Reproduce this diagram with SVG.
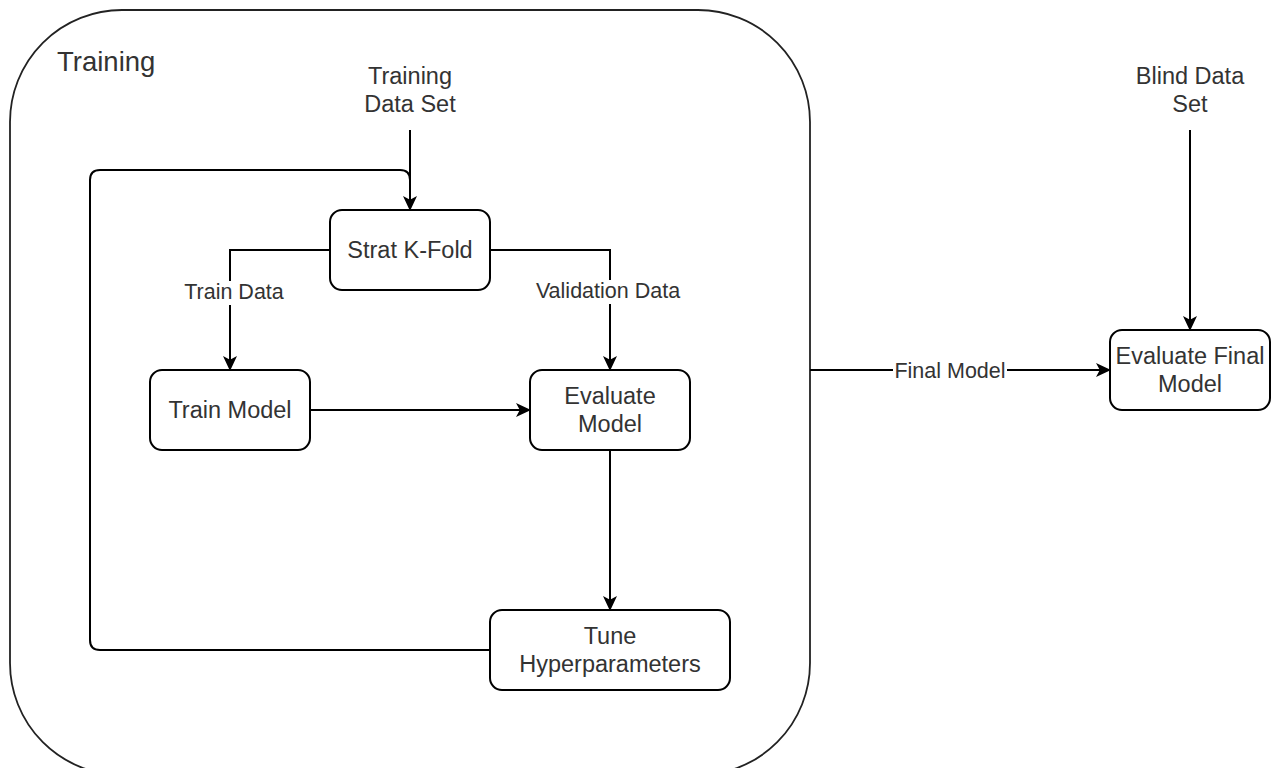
<svg xmlns="http://www.w3.org/2000/svg" width="1271" height="768" viewBox="0 0 1271 768">
  <defs>
    <marker id="arrow" markerUnits="userSpaceOnUse" markerWidth="15" markerHeight="15" viewBox="0 0 15 15" refX="14" refY="7.5" orient="auto">
      <path d="M15,7.5 L0,0.5 L3.8,7.5 L0,14.5 Z" fill="#000"/>
    </marker>
    <style>
      .box { fill: #fff; stroke: #000; stroke-width: 2; }
      .edge { fill: none; stroke: #000; stroke-width: 2; }
      .lbl { font-family: "Liberation Sans", Arial, sans-serif; fill: #333; text-anchor: middle; }
      .node { font-size: 23.5px; }
      .elbl { font-size: 21.5px; }
      .bg { fill: #fff; }
    </style>
  </defs>
  <rect width="1271" height="768" fill="#fff"/>

  <!-- Training container -->
  <g id="training-container">
    <rect x="10" y="10" width="800" height="765" rx="112" ry="112" fill="none" stroke="#222" stroke-width="1.8"/>
    <text x="57" y="71" font-family="'Liberation Sans', Arial, sans-serif" font-size="27.5" fill="#333">Training</text>
  </g>

  <!-- Connectors -->
  <g id="connectors">
    <!-- feedback loop from Tune Hyperparameters back into Strat K-Fold -->
    <path class="edge" d="M490,650 H100 Q90,650 90,640 V180 Q90,170 100,170 H400 Q410,170 410,180"/>
    <path class="edge" d="M410,130 V210" marker-end="url(#arrow)"/>
    <path class="edge" d="M330,250 H230 V370" marker-end="url(#arrow)"/>
    <path class="edge" d="M490,250 H610 V370" marker-end="url(#arrow)"/>
    <path class="edge" d="M310,410 H530" marker-end="url(#arrow)"/>
    <path class="edge" d="M610,450 V610" marker-end="url(#arrow)"/>
    <path class="edge" d="M810,370 H1110" marker-end="url(#arrow)"/>
    <path class="edge" d="M1190,130 V330" marker-end="url(#arrow)"/>

    <!-- edge labels -->
    <rect class="bg" x="182" y="281" width="104" height="24"/>
    <text class="lbl elbl" x="234" y="299">Train Data</text>
    <rect class="bg" x="533" y="280" width="150" height="24"/>
    <text class="lbl elbl" x="608" y="298">Validation Data</text>
    <rect class="bg" x="893" y="360" width="114" height="24"/>
    <text class="lbl elbl" x="950" y="378">Final Model</text>
  </g>

  <!-- Free-standing data set labels -->
  <g id="training-data-set">
    <text class="lbl node" x="410" y="84">Training</text>
    <text class="lbl node" x="410" y="112">Data Set</text>
  </g>
  <g id="blind-data-set">
    <text class="lbl node" x="1190" y="84">Blind Data</text>
    <text class="lbl node" x="1190" y="112">Set</text>
  </g>

  <!-- Process nodes -->
  <g id="strat-k-fold">
    <rect class="box" x="330" y="210" width="160" height="80" rx="12" ry="12"/>
    <text class="lbl node" x="410" y="258">Strat K-Fold</text>
  </g>
  <g id="train-model">
    <rect class="box" x="150" y="370" width="160" height="80" rx="12" ry="12"/>
    <text class="lbl node" x="230" y="418">Train Model</text>
  </g>
  <g id="evaluate-model">
    <rect class="box" x="530" y="370" width="160" height="80" rx="12" ry="12"/>
    <text class="lbl node" x="610" y="404">Evaluate</text>
    <text class="lbl node" x="610" y="432">Model</text>
  </g>
  <g id="tune-hyperparameters">
    <rect class="box" x="490" y="610" width="240" height="80" rx="12" ry="12"/>
    <text class="lbl node" x="610" y="644">Tune</text>
    <text class="lbl node" x="610" y="672">Hyperparameters</text>
  </g>
  <g id="evaluate-final-model">
    <rect class="box" x="1110" y="330" width="160" height="80" rx="12" ry="12"/>
    <text class="lbl node" x="1190" y="364">Evaluate Final</text>
    <text class="lbl node" x="1190" y="392">Model</text>
  </g>
</svg>
